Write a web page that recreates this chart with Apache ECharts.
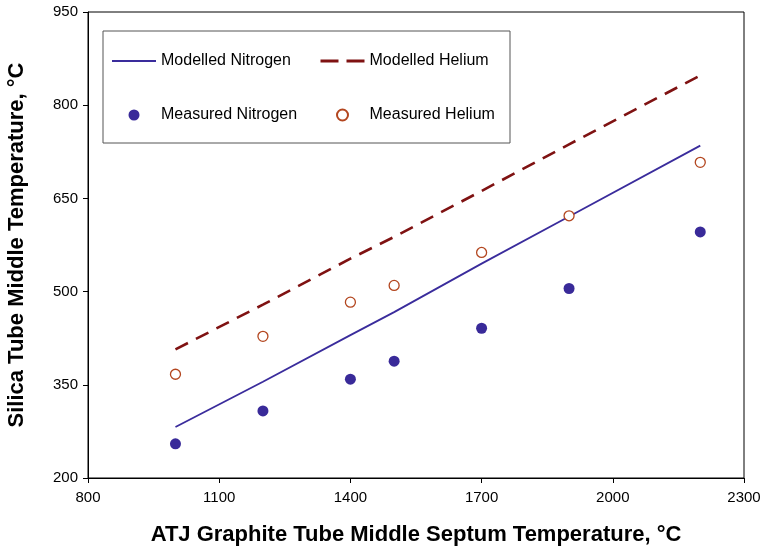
<!DOCTYPE html>
<html>
<head>
<meta charset="utf-8">
<script src="https://cdn.jsdelivr.net/npm/echarts@6/dist/echarts.min.js"></script>
<style>
  html, body { margin: 0; padding: 0; background: #fff; }
  #chart { width: 763px; height: 548px; }
</style>
</head>
<body>
<div id="chart"></div>
<script>
    // graphite septum temperature (x) vs silica tube temperature (y)
    var xModel = [1000, 1200, 1400, 1500, 1700, 1900, 2200];
    var modelN2 = [282, 355, 430, 467, 545, 621, 735];
    var modelHe = [407, 479, 553, 588, 662, 737, 848];

    var xMeas = [1000, 1200, 1400, 1500, 1700, 1900, 2200];
    var measN2 = [255, 308, 359, 388, 441, 505, 596];
    var measHe = [367, 428, 483, 510, 563, 622, 708];

    function pairs(xs, ys) {
        var out = [];
        for (var i = 0; i < xs.length; i++) out.push([xs[i], ys[i]]);
        return out;
    }

    var chart = echarts.init(document.getElementById('chart'));
    var font = 'Liberation Sans, Arial, sans-serif';
    var legendText = { fontFamily: font, fontSize: 16, color: '#000' };
    var n2Color = '#3a2c9c';
    var heLine = '#7f1212';
    var heMark = '#b3461f';
    var noDot = { opacity: 0 };

    var option = {
        animation: false,
        textStyle: { fontFamily: font },
        grid: {
            left: 88, right: 19, top: 12, bottom: 70,
            outerBoundsMode: 'none',
            show: true, borderColor: '#000', borderWidth: 1
        },
        graphic: [{
            type: 'rect',
            z: 1,
            shape: { x: 103, y: 31, width: 407, height: 112 },
            style: { fill: '#fff', stroke: '#555', lineWidth: 1 }
        }],
        legend: [{
            orient: 'vertical',
            left: 106, top: 48,
            itemWidth: 44, itemHeight: 11, itemGap: 38,
            textStyle: legendText,
            data: [
                { name: 'Modelled Nitrogen', itemStyle: noDot, lineStyle: { width: 2 } },
                { name: 'Measured Nitrogen', icon: 'circle' }
            ]
        }, {
            orient: 'vertical',
            left: 314, top: 48,
            itemWidth: 44, itemHeight: 11, itemGap: 38,
            textStyle: legendText,
            data: [
                { name: 'Modelled Helium', itemStyle: noDot, lineStyle: { type: [18, 8], width: 3 } },
                { name: 'Measured Helium', icon: 'circle' }
            ]
        }],
        xAxis: {
            type: 'value',
            min: 800, max: 2300, interval: 300,
            name: 'ATJ Graphite Tube Middle Septum Temperature, °C',
            nameLocation: 'middle',
            nameGap: 46,
            nameTextStyle: { fontFamily: font, fontSize: 22, fontWeight: 'bold', color: '#000' },
            axisLine: { lineStyle: { color: '#000', width: 1 } },
            axisTick: { length: 5, lineStyle: { color: '#000' } },
            axisLabel: {
                fontFamily: font, fontSize: 15, color: '#000', margin: 12,
                formatter: function (v) { return String(v); }
            },
            splitLine: { show: false }
        },
        yAxis: {
            type: 'value',
            min: 200, max: 950, interval: 150,
            name: 'Silica Tube Middle Temperature, °C',
            nameLocation: 'middle',
            nameGap: 60,
            nameTextStyle: { fontFamily: font, fontSize: 22, fontWeight: 'bold', color: '#000' },
            axisLine: { show: true, lineStyle: { color: '#000', width: 1 } },
            axisTick: { show: true, length: 5, lineStyle: { color: '#000' } },
            axisLabel: {
                fontFamily: font, fontSize: 15, color: '#000', margin: 10,
                formatter: function (v) { return String(v); }
            },
            splitLine: { show: false }
        },
        series: [{
            name: 'Modelled Nitrogen',
            type: 'line',
            symbol: 'none',
            data: pairs(xModel, modelN2),
            lineStyle: { color: n2Color, width: 1.8 },
            itemStyle: { color: n2Color },
            z: 3
        }, {
            name: 'Modelled Helium',
            type: 'line',
            symbol: 'none',
            data: pairs(xModel, modelHe),
            lineStyle: { color: heLine, width: 2.6, type: [14, 9] },
            itemStyle: { color: heLine },
            z: 3
        }, {
            name: 'Measured Nitrogen',
            type: 'scatter',
            symbol: 'circle',
            symbolSize: 11,
            data: pairs(xMeas, measN2),
            itemStyle: { color: '#392a99', opacity: 1 },
            z: 4
        }, {
            name: 'Measured Helium',
            type: 'scatter',
            symbol: 'circle',
            symbolSize: 10,
            data: pairs(xMeas, measHe),
            itemStyle: { color: '#fff', borderColor: heMark, borderWidth: 1.3, opacity: 1 },
            z: 4
        }]
    };

    chart.setOption(option);
</script>
</body>
</html>
